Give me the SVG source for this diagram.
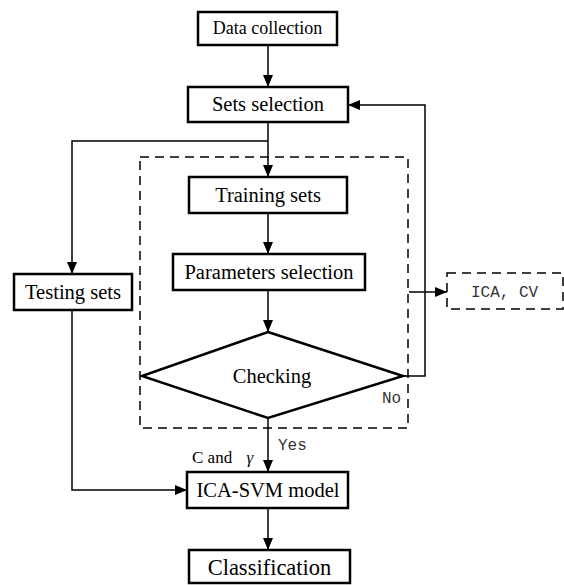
<svg xmlns="http://www.w3.org/2000/svg" width="564" height="585" viewBox="0 0 564 585">
  <style>
    .box { fill: #fff; stroke: #000; stroke-width: 2.5; }
    .dash { fill: none; stroke: #000; stroke-width: 1.5; stroke-dasharray: 9 6; }
    .conn { fill: none; stroke: #000; stroke-width: 1.5; }
    .lbl { font-family: "Liberation Serif", "Times New Roman", serif; fill: #000; text-anchor: middle; }
    .mono { font-family: "Liberation Mono", "Courier New", monospace; fill: #333; }
  </style>
  <defs>
    <marker id="arrow" viewBox="0 0 12 10" refX="12" refY="5" markerWidth="12" markerHeight="10" markerUnits="userSpaceOnUse" orient="auto">
      <path d="M0,0 L12,5 L0,10 z" fill="#000"/>
    </marker>
  </defs>

  <!-- dashed grouping of the parameter search loop -->
  <rect class="dash" x="140" y="157" width="268" height="271"/>

  <g id="connectors">
    <line class="conn" x1="268" y1="45" x2="268" y2="87" marker-end="url(#arrow)"/>
    <line class="conn" x1="268" y1="122" x2="268" y2="177" marker-end="url(#arrow)"/>
    <polyline class="conn" points="268,141 72,141 72,274" marker-end="url(#arrow)"/>
    <line class="conn" x1="268" y1="213" x2="268" y2="254" marker-end="url(#arrow)"/>
    <line class="conn" x1="268" y1="290" x2="268" y2="332" marker-end="url(#arrow)"/>
    <polyline class="conn" points="403,376 425,376 425,105 348,105" marker-end="url(#arrow)"/>
    <line class="conn" x1="409" y1="292" x2="447" y2="292" marker-end="url(#arrow)"/>
    <line class="conn" x1="268" y1="418" x2="268" y2="472" marker-end="url(#arrow)"/>
    <polyline class="conn" points="72,310 72,490 187,490" marker-end="url(#arrow)"/>
    <line class="conn" x1="268" y1="508" x2="268" y2="550" marker-end="url(#arrow)"/>
    <text class="mono" x="382" y="403" font-size="16">No</text>
    <text class="mono" x="278" y="450" font-size="16">Yes</text>
    <text class="lbl" x="192" y="463" font-size="17" style="text-anchor:start">C and <tspan font-style="italic" dx="10">γ</tspan></text>
  </g>

  <g id="data-collection">
    <rect class="box" x="198" y="12" width="139" height="33"/>
    <text class="lbl" x="267.5" y="34" font-size="18">Data collection</text>
  </g>
  <g id="sets-selection">
    <rect class="box" x="188" y="87" width="160" height="35"/>
    <text class="lbl" x="268" y="111" font-size="20.5">Sets selection</text>
  </g>
  <g id="training-sets">
    <rect class="box" x="189" y="177" width="158" height="36"/>
    <text class="lbl" x="268" y="202" font-size="20.5">Training sets</text>
  </g>
  <g id="parameters-selection">
    <rect class="box" x="173" y="254" width="192" height="36"/>
    <text class="lbl" x="269" y="279" font-size="20.5">Parameters selection</text>
  </g>
  <g id="testing-sets">
    <rect class="box" x="14" y="274" width="118" height="36"/>
    <text class="lbl" x="73" y="299" font-size="20.5">Testing sets</text>
  </g>
  <g id="checking">
    <polygon class="box" points="268,332 403,376 268,418 142,376"/>
    <text class="lbl" x="272" y="383" font-size="20.5">Checking</text>
  </g>
  <g id="ica-cv">
    <rect class="dash" x="447" y="273" width="116" height="36"/>
    <text class="mono" x="471" y="297" font-size="16" xml:space="preserve">ICA, CV</text>
  </g>
  <g id="ica-svm-model">
    <rect class="box" x="187" y="472" width="161" height="36"/>
    <text class="lbl" x="268" y="497" font-size="20.5">ICA-SVM model</text>
  </g>
  <g id="classification">
    <rect class="box" x="189" y="550" width="161" height="33"/>
    <text class="lbl" x="269.5" y="575" font-size="22.5">Classification</text>
  </g>
</svg>
